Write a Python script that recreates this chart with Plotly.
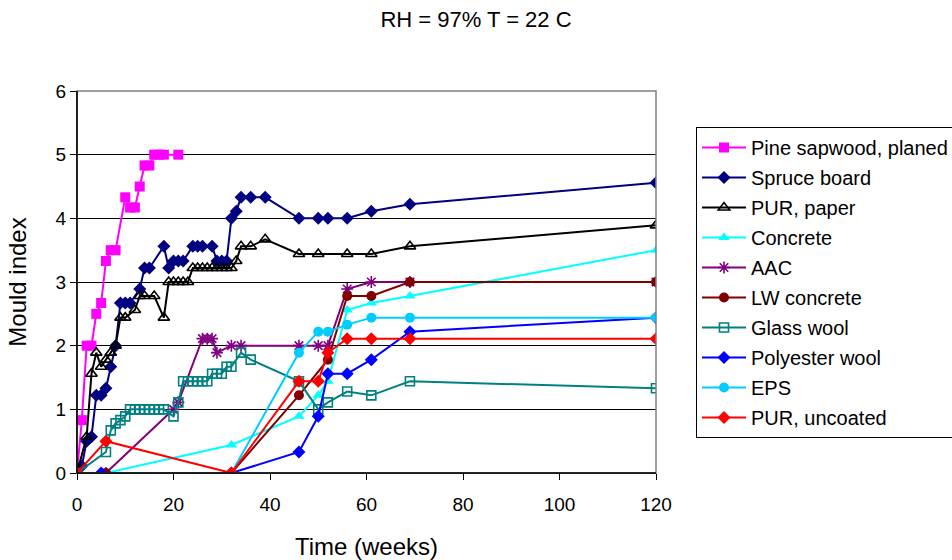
import plotly.graph_objects as go

# ---- data (weeks, mould index) ----
pine_w = [0, 1, 2, 3, 4, 5, 6, 7, 8, 10, 11, 12, 13, 14, 15, 16, 17, 18, 21]
pine_v = [0, 0.83, 2.0, 2.0, 2.5, 2.67, 3.33, 3.5, 3.5, 4.33, 4.17, 4.17, 4.5, 4.83, 4.83, 5.0, 5.0, 5.0, 5.0]

spruce_w = [0, 1, 2, 3, 4, 5, 6, 7, 8, 9, 10, 11, 13, 14, 15, 18, 19, 20, 21, 22, 24, 25, 26, 28, 29, 30, 31,
            32, 33, 34, 36, 39, 46, 50, 52, 56, 61, 69, 120]
spruce_v = [0, 0.11, 0.5, 0.57, 1.22, 1.22, 1.33, 1.67, 2.0, 2.67, 2.67, 2.67, 2.89, 3.22, 3.22, 3.56, 3.22, 3.33,
            3.33, 3.33, 3.56, 3.56, 3.56, 3.56, 3.33, 3.33, 3.33, 4.0, 4.11, 4.33, 4.33, 4.33, 4.0, 4.0, 4.0, 4.0,
            4.11, 4.22, 4.56]

purp_w = [0, 2, 3, 4, 5, 6, 7, 8, 9, 10, 12, 13, 14, 16, 18, 19, 20, 21, 22, 23, 24, 25, 26, 27, 28, 29, 30, 31,
          32, 33, 34, 36, 39, 46, 50, 56, 61, 69, 120]
purp_v = [0, 0.57, 1.56, 1.89, 1.67, 1.78, 1.89, 2.0, 2.44, 2.44, 2.56, 2.78, 2.78, 2.78, 2.44, 3.0, 3.0, 3.0, 3.0,
          3.0, 3.22, 3.22, 3.22, 3.22, 3.22, 3.22, 3.22, 3.22, 3.22, 3.33, 3.56, 3.56, 3.67, 3.44, 3.44, 3.44,
          3.44, 3.56, 3.89]

concrete_w = [0, 6, 32, 46, 50, 52, 56, 61, 69, 120]
concrete_v = [0, 0, 0.44, 0.89, 1.22, 1.44, 2.56, 2.67, 2.78, 3.5]

aac_w = [0, 6, 20, 21, 26, 27, 28, 29, 32, 34, 46, 50, 52, 56, 61, 69, 120]
aac_v = [0, 0, 1.0, 1.11, 2.11, 2.11, 2.11, 1.89, 2.0, 2.0, 2.0, 2.0, 2.0, 2.89, 3.0, 3.0, 3.0]

lwc_w = [0, 6, 32, 46, 52, 56, 61, 69, 120]
lwc_v = [0, 0, 0, 1.22, 1.78, 2.78, 2.78, 3.0, 3.0]

glass_w = [0, 6, 7, 8, 9, 10, 11, 12, 13, 14, 15, 16, 17, 18, 20, 21, 22, 23, 24, 25, 26, 27, 28, 29, 30, 31,
           32, 34, 36, 46, 50, 52, 56, 61, 69, 120]
glass_v = [0, 0.33, 0.67, 0.78, 0.83, 0.89, 1.0, 1.0, 1.0, 1.0, 1.0, 1.0, 1.0, 1.0, 0.89, 1.11, 1.44, 1.44, 1.44,
           1.44, 1.44, 1.44, 1.56, 1.56, 1.56, 1.67, 1.67, 1.89, 1.78, 1.44, 1.0, 1.11, 1.28, 1.22, 1.44, 1.33]

poly_w = [0, 5, 32, 46, 50, 52, 56, 61, 69, 120]
poly_v = [0, 0, 0, 0.33, 0.89, 1.56, 1.56, 1.78, 2.22, 2.44]

eps_w = [0, 32, 46, 50, 52, 56, 61, 69, 120]
eps_v = [0, 0, 1.89, 2.22, 2.22, 2.33, 2.44, 2.44, 2.44]

puru_w = [0, 6, 32, 46, 50, 52, 56, 61, 69, 120]
puru_v = [0, 0.5, 0, 1.44, 1.44, 1.89, 2.11, 2.11, 2.11, 2.11]

series_names = ["Pine sapwood, planed", "Spruce board", "PUR, paper", "Concrete", "AAC", "LW concrete",
                "Glass wool", "Polyester wool", "EPS", "PUR, uncoated"]
x_ticks = [0, 20, 40, 60, 80, 100, 120]
y_ticks = [0, 1, 2, 3, 4, 5, 6]

# ---- styles ----
styles = [
    ("#FF00FF", "square", 10),
    ("#000080", "diamond", 10),
    ("#000000", "triangle-up-open", 10),
    ("#00FFFF", "triangle-up", 10),
    ("#800080", "asterisk-open", 10),
    ("#800000", "circle", 10),
    ("#008080", "square-open", 9),
    ("#0000FF", "diamond", 10),
    ("#00CCFF", "circle", 10),
    ("#FF0000", "diamond", 10),
]
data = [(pine_w, pine_v), (spruce_w, spruce_v), (purp_w, purp_v), (concrete_w, concrete_v), (aac_w, aac_v),
        (lwc_w, lwc_v), (glass_w, glass_v), (poly_w, poly_v), (eps_w, eps_v), (puru_w, puru_v)]

FONT = "Arial, Liberation Sans, sans-serif"
fig = go.Figure()
for i, (name, (xs, ys), (col, sym, sz)) in enumerate(zip(series_names, data, styles)):
    mk = dict(symbol=sym, size=sz, color=col)
    if "open" in sym:
        mk["line"] = dict(color=col, width=1.6)
    fig.add_trace(go.Scatter(x=xs, y=ys, name=name, mode="lines+markers",
                             line=dict(color=col, width=2), marker=mk,
                             legendgroup="g%d" % i))

fig.update_layout(
    width=952, height=560,
    margin=dict(l=77, r=296, t=91, b=87, autoexpand=False),
    paper_bgcolor="white", plot_bgcolor="white",
    font=dict(family=FONT, size=19, color="black"),
    title=dict(text="RH = 97% T = 22 C", x=0.5, xref="container", xanchor="center",
               y=1 - 19 / 560, yanchor="middle", yref="container",
               font=dict(size=22, family=FONT, color="black")),
    showlegend=True,
    legend=dict(x=(696 - 77) / 579, xanchor="left", y=(473 - 127) / 382, yanchor="top",
                bordercolor="black", borderwidth=1, bgcolor="white",
                font=dict(size=20, family=FONT, color="black"),
                tracegroupgap=1, itemwidth=44),
)
fig.update_xaxes(range=[0, 120], tickvals=x_ticks, ticks="outside", ticklen=6, tickcolor="black",
                 showline=True, linecolor="black", linewidth=1, showgrid=False, zeroline=False,
                 ticklabelstandoff=8,
                 title=dict(text="Time (weeks)", font=dict(size=24), standoff=24),
                 tickfont=dict(size=19))
fig.update_yaxes(range=[0, 6], tickvals=y_ticks, ticks="outside", ticklen=6, tickcolor="black",
                 showline=True, linecolor="black", linewidth=1, showgrid=True, gridcolor="#000000",
                 gridwidth=1, zeroline=False,
                 title=dict(text="Mould index", font=dict(size=24), standoff=22),
                 tickfont=dict(size=19))
fig.add_shape(type="rect", xref="paper", yref="paper", x0=0, y0=0, x1=1, y1=1,
              line=dict(color="#808080", width=1.5), layer="above")
fig.add_shape(type="line", xref="paper", yref="paper", x0=0, y0=0, x1=0, y1=1,
              line=dict(color="black", width=1.5), layer="above")
fig.add_shape(type="line", xref="paper", yref="paper", x0=0, y0=0, x1=1, y1=0,
              line=dict(color="black", width=1.5), layer="above")

fig.write_html("out.html")
